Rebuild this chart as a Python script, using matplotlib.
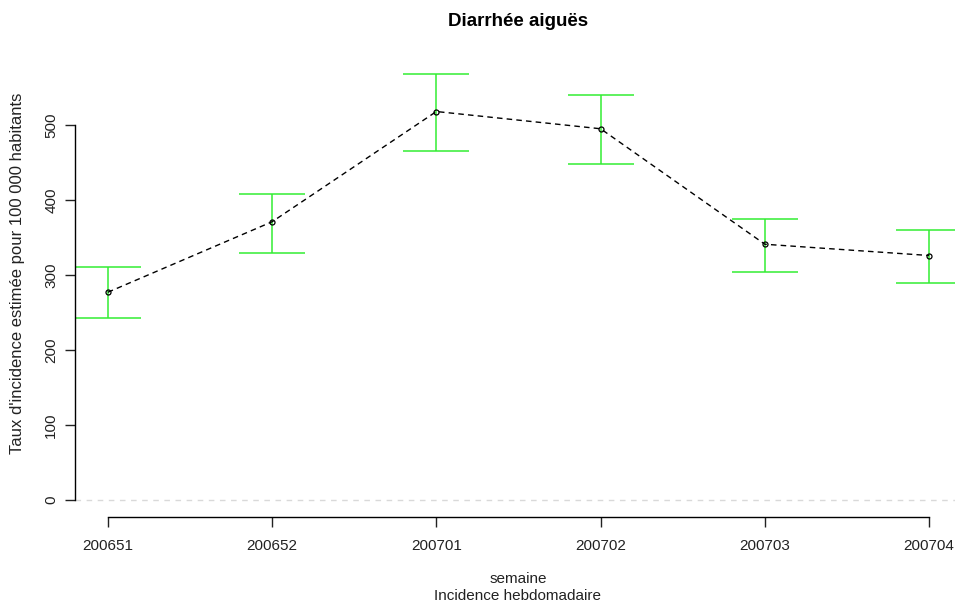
import numpy as np
import matplotlib
matplotlib.use("Agg")
import matplotlib.pyplot as plt

plt.rcParams['font.family'] = ['Liberation Sans', 'DejaVu Sans']

semaines = ['200651', '200652', '200701', '200702', '200703', '200704']
taux = [277, 371, 518, 495, 341, 326]
borne_inf = [243, 330, 465, 448, 304, 289]
borne_sup = [311, 408, 568, 540, 375, 360]

x = np.arange(1, len(semaines) + 1)
taux = np.array(taux)
lo = taux - np.array(borne_inf)
hi = np.array(borne_sup) - taux

fig = plt.figure(figsize=(9.55, 6.05), dpi=100)
W, H = 955, 605
ax = fig.add_axes([75 / W, (H - 517) / H, (962 - 75) / W, (517 - 57) / H])

ax.axhline(0, color='#d9d9d9', lw=1, ls=(0, (4, 4)), zorder=1)
ax.errorbar(x, taux, yerr=[lo, hi], fmt='none', ecolor='#33ee33', elinewidth=1.1,
            capsize=24, capthick=1.1, zorder=2)
ax.plot(x, taux, color='black', ls=(0, (4, 3)), lw=1, marker='o', ms=3.6,
        mfc='none', mec='black', mew=0.9, zorder=3)

ax.set_xlim(0.8, 6.2)
ax.set_ylim(-22.7, 590.7)

for s in ['top', 'right']:
    ax.spines[s].set_visible(False)
ax.spines['left'].set_bounds(0, 500)
ax.spines['bottom'].set_bounds(1, 6)
ax.spines['left'].set_linewidth(1)
ax.spines['bottom'].set_linewidth(1)

ax.set_xticks(x)
ax.set_xticklabels(semaines)
ax.set_yticks([0, 100, 200, 300, 400, 500])
ax.tick_params(axis='both', direction='out', length=7, width=1, labelsize=11, colors='#222222')
ax.tick_params(axis='x', pad=9)
ax.tick_params(axis='y', pad=5)
for lab in ax.get_yticklabels():
    lab.set_rotation(90)
    lab.set_va('center')

fig.text(518 / W, 1 - 22 / H, 'Diarrhée aiguës', ha='center', va='center',
         fontsize=13.5, fontweight='bold')
fig.text(518 / W, 1 - 579 / H, 'semaine', ha='center', va='center', fontsize=11, color='#222222')
fig.text(518 / W, 1 - 596 / H, 'Incidence hebdomadaire', ha='center', va='center', fontsize=11, color='#222222')
fig.text(18 / W, 1 - 273 / H, "Taux d'incidence estimée pour 100 000 habitants", ha='center',
         va='center', rotation=90, fontsize=12, color='#222222')

fig.savefig('out.png', dpi=100)
